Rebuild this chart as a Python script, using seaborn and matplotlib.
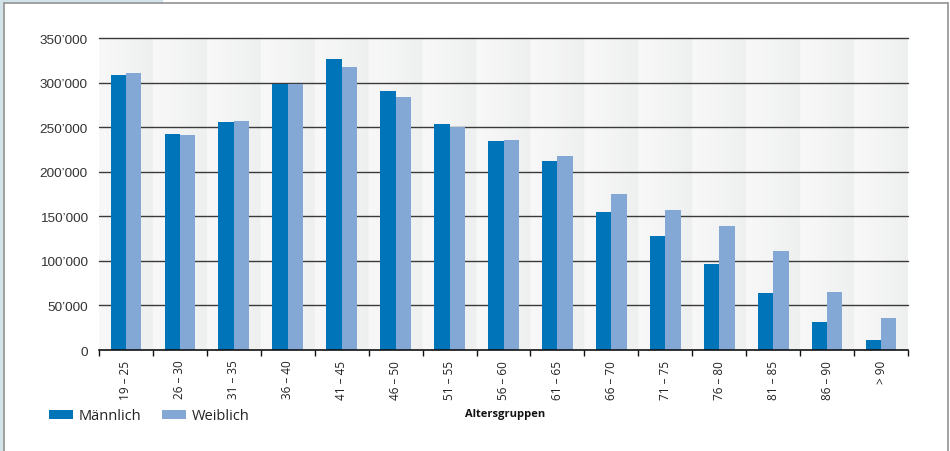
import numpy as np
import pandas as pd
import matplotlib
matplotlib.use("Agg")
import matplotlib.pyplot as plt
import matplotlib.patches as mpatches
from matplotlib.lines import Line2D
import seaborn as sns

# ---- data ----
categories = ["19 – 25", "26 – 30", "31 – 35", "36 – 40", "41 – 45", "46 – 50",
              "51 – 55", "56 – 60", "61 – 65", "66 – 70", "71 – 75", "76 – 80",
              "81 – 85", "86 – 90", "> 90"]
maennlich = [309000, 242000, 256000, 298000, 326000, 291000, 254000, 235000,
             212000, 155000, 128000, 97000, 64000, 31000, 11500]
weiblich = [311000, 241000, 257000, 298000, 318000, 284000, 250000, 236000,
            218000, 175000, 157000, 139000, 111000, 65000, 35500]
series_names = ["Männlich", "Weiblich"]
y_ticks = [0, 50000, 100000, 150000, 200000, 250000, 300000, 350000]
y_ticklabels = ["0", "50’000", "100’000", "150’000", "200’000", "250’000",
                "300’000", "350’000"]
x_title = "Altersgruppen"

df = pd.DataFrame({
    "Altersgruppe": categories * 2,
    "Geschlecht": [series_names[0]] * len(categories) + [series_names[1]] * len(categories),
    "Anzahl": maennlich + weiblich,
})

col_m = "#0074b8"
col_w = "#84a8d5"

sns.set_theme(style="white")
plt.rcParams["font.family"] = ["Open Sans", "DejaVu Sans"]

W, H = 950, 452
fig = plt.figure(figsize=(W / 100, H / 100), dpi=100)
fig.patch.set_facecolor("white")
ax = fig.add_axes([99 / W, 1 - 351 / H, (908 - 99) / W, (351 - 39) / H])

# background gradient per category band
n = len(categories)
steps = 60
grad = np.linspace(0, 1, steps)
light = np.array([248, 248, 248]) / 255
dark = np.array([238, 240, 239]) / 255
band = light[None, :] * (1 - grad[:, None]) + dark[None, :] * grad[:, None]
img = np.tile(band, (n, 1))[None, :, :]
ax.imshow(img, extent=(-0.5, n - 0.5, 0, 350000), aspect="auto", zorder=0,
          interpolation="bilinear")

sns.barplot(data=df, x="Altersgruppe", y="Anzahl", hue="Geschlecht",
            palette=[col_m, col_w], width=0.57, gap=0, saturation=1,
            dodge=True, legend=False, ax=ax, zorder=3, linewidth=0,
            edgecolor="none")

ax.set_xlim(-0.5, n - 0.5)
ax.set_ylim(0, 350000)

# grid lines
for yv in y_ticks[1:]:
    ax.axhline(yv, color="#3a3a3a", lw=1.0, zorder=1, clip_on=False)

for s in ["top", "right", "left"]:
    ax.spines[s].set_visible(False)
ax.spines["bottom"].set_color("#111111")
ax.spines["bottom"].set_linewidth(1.2)
ax.spines["bottom"].set_zorder(5)

ax.tick_params(axis="y", length=0, pad=8, labelsize=9.7,
               labelfontfamily="Liberation Sans", labelcolor="#333333")
ax.set_yticks(y_ticks)
ax.set_yticklabels(y_ticklabels)

ax.set_xticks(range(n))
ax.set_xticklabels(categories, rotation=90, fontsize=8.5, color="#222222")
ax.set_xticks(np.arange(-0.5, n, 1.0), minor=True)
ax.tick_params(axis="x", which="major", length=0, pad=7)
ax.tick_params(axis="x", which="minor", length=4, width=1.0, color="#111111",
               direction="out", bottom=True)

ax.set_xlabel("")
ax.set_ylabel("")

fig.text(505 / W, 1 - 415 / H, x_title, fontsize=8, fontweight="bold",
         ha="center", va="center", color="#111111")

handles = [mpatches.Patch(facecolor=col_m, edgecolor="none"),
           mpatches.Patch(facecolor=col_w, edgecolor="none")]
fig.legend(handles, series_names, loc="center left",
           bbox_to_anchor=(48.5 / W, 1 - 417 / H), ncol=2, frameon=False,
           fontsize=10.5, handlelength=1.65, handleheight=0.62,
           handletextpad=0.42, columnspacing=1.4, borderpad=0,
           borderaxespad=0, labelcolor="#222222")

# outer frame
fig.add_artist(mpatches.Rectangle((0, 0), 3.5 / W, 1, transform=fig.transFigure,
                                  facecolor="#d3e3ea", edgecolor="none"))
fig.add_artist(mpatches.Rectangle((0, 1 - 3.5 / H), 163 / W, 3.5 / H,
                                  transform=fig.transFigure,
                                  facecolor="#d3e3ea", edgecolor="none"))
fig.add_artist(Line2D([4 / W, 4 / W], [0, 1 - 3.5 / H], transform=fig.transFigure,
                      color="#9a9a9a", lw=1.3))
fig.add_artist(Line2D([4 / W, 948 / W], [1 - 3.5 / H, 1 - 3.5 / H],
                      transform=fig.transFigure, color="#9a9a9a", lw=1.3))
fig.add_artist(Line2D([948 / W, 948 / W], [0, 1 - 3.5 / H], transform=fig.transFigure,
                      color="#9a9a9a", lw=1.3))

fig.savefig("out.png", dpi=100, facecolor="white")
